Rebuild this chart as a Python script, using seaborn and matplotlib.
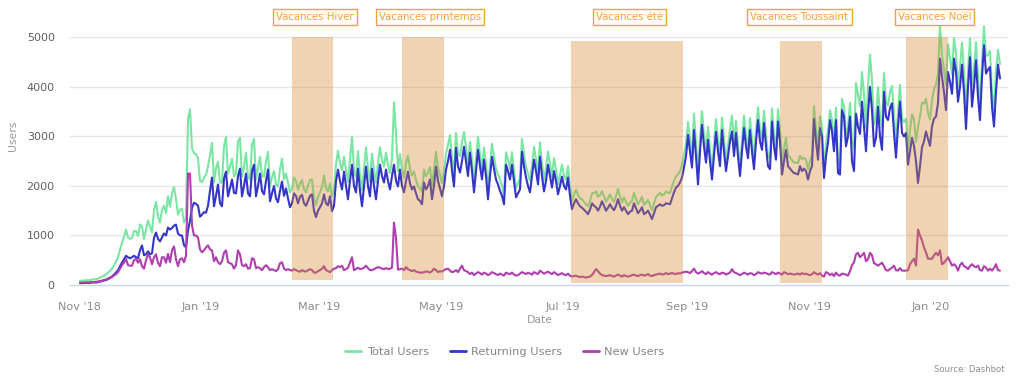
import matplotlib
matplotlib.use("Agg")
import matplotlib.pyplot as plt
import matplotlib.dates as mdates
import matplotlib.transforms as mtransforms
from matplotlib.lines import Line2D
import seaborn as sns
import pandas as pd

# ---------------- data ----------------
start_date = "2018-11-01 12:00"

total_users = [
    80, 90,
    90, 100, 90, 100, 110, 115, 115,
    130, 150, 170, 190, 210, 250, 290,
    330, 400, 470, 560, 710, 850, 970,
    1120, 960, 930, 950, 1090, 1090, 990,
    1220, 1180, 930, 1120, 1300, 1180, 1060,
    1510, 1680, 1380, 1260, 1520, 1600, 1450,
    1790, 1580, 1850, 1980, 1740, 1420, 1520,
    1540, 1260, 1350, 3350, 3550, 2760, 2660,
    2640, 2560, 2100, 2080, 2170, 2220, 2400,
    2620, 2870, 2070, 2360, 2490, 2070, 2070,
    2800, 2990, 2250, 2390, 2550, 2190, 2250,
    2900, 2970, 2190, 2380, 2670, 2180, 2130,
    2840, 2950, 2130, 2360, 2590, 2200, 2190,
    2500, 2690, 1990, 2170, 2300, 2030, 1990,
    2340, 2550, 2130, 2250, 2070, 1870, 1940,
    2170, 2100, 1930, 2050, 2120, 1930, 1870,
    2000, 2120, 2130, 1750, 1620, 1780, 1870,
    1980, 2210, 1950, 1890, 2050, 1790, 1930,
    2440, 2710, 2460, 2320, 2590, 2320, 2080,
    2550, 2990, 2300, 2190, 2700, 2220, 1920,
    2350, 2780, 2340, 2090, 2650, 2320, 2070,
    2460, 2780, 2530, 2390, 2670, 2420, 2260,
    2550, 3690, 3050, 2300, 2650, 2330, 2170,
    2460, 2610, 2350, 2210, 2290, 2120, 1990,
    1950, 1880, 2330, 2200, 2270, 2380, 2010,
    2330, 2690, 2360, 2230, 2060, 2300, 2650,
    2830, 3020, 2560, 2260, 3070, 2660, 2600,
    2890, 3090, 2780, 2460, 2890, 2550, 2070,
    2530, 2990, 2640, 2340, 2780, 2430, 1930,
    2420, 2850, 2590, 2350, 2230, 2130, 2010,
    1820, 2680, 2530, 2350, 2680, 2310, 1960,
    2050, 2160, 2950, 2640, 2390, 2250, 2100,
    2410, 2790, 2540, 2250, 2880, 2460, 2120,
    2350, 2700, 2440, 2190, 2560, 2330, 2030,
    2220, 2430, 2210, 2130, 2400, 1990, 1700,
    1830, 1920, 1820, 1750, 1730, 1680, 1630,
    1590, 1690, 1850, 1860, 1890, 1780, 1810,
    1890, 1790, 1680, 1750, 1830, 1740, 1680,
    1790, 1940, 1790, 1670, 1770, 1680, 1600,
    1660, 1700, 1860, 1740, 1630, 1700, 1780,
    1620, 1660, 1720, 1610, 1510, 1650, 1780,
    1820, 1860, 1810, 1830, 1890, 1860, 1860,
    1990, 2100, 2190, 2240, 2300, 2420, 2630,
    2870, 3290, 2940, 2650, 3460, 2860, 2260,
    2950, 3510, 3040, 2690, 3190, 2730, 2340,
    2840, 3350, 2930, 2620, 3380, 2940, 2510,
    2830, 3150, 3420, 2860, 3310, 2820, 2400,
    2920, 3420, 3030, 2770, 3370, 2930, 2540,
    3120, 3590, 3140, 2960, 3520, 3040, 2620,
    2550, 3560, 3040, 2750, 3550, 3130, 2440,
    2760, 2970, 2620, 2580, 2520, 2470, 2470,
    2460, 2610, 2540, 2570, 2530, 2340, 2500,
    2620, 3610, 3130, 2740, 3410, 3190, 2330,
    2860, 3110, 3530, 3330, 2880, 3580, 2460,
    2420, 3760, 3620, 3010, 3190, 3680, 2900,
    2760, 4080, 3850, 3610, 4300, 3850, 3180,
    3980, 4650, 4130, 3240, 3390, 3990, 3420,
    3180, 4280, 3700, 3620, 3890, 4020, 3460,
    2870, 3490, 4040, 3360, 3290, 3360, 2730,
    3120, 3450, 3340, 2890, 3180, 3400, 3680,
    3660, 3760, 3480, 3340, 3730, 3960, 4050,
    4270, 5270, 4620, 4350, 4030, 4860, 4580,
    4250, 4990, 4680, 3990, 4400, 4900, 4280,
    3510, 4320, 4980, 4020, 4380, 4900, 4190,
    3630, 4490, 5220, 4620, 4640, 4730, 3890,
    3540, 4320, 4750, 4460,
]

returning_users = [
    35, 40,
    40, 45, 40, 45, 50, 55, 50,
    60, 70, 80, 90, 100, 120, 140,
    170, 210, 250, 300, 380, 450, 520,
    590, 560, 540, 560, 590, 560, 540,
    700, 800, 600, 620, 680, 620, 640,
    950, 1060, 930, 880, 960, 1040, 1000,
    1160, 1120, 1150, 1200, 1220, 1040, 1000,
    1000, 800, 760, 1100, 1300, 1560, 1660,
    1640, 1600, 1380, 1420, 1470, 1460, 1600,
    1900, 2170, 1590, 1800, 2030, 1650, 1590,
    2150, 2290, 1790, 1950, 2130, 1860, 1850,
    2200, 2350, 1790, 2000, 2250, 1850, 1790,
    2300, 2430, 1790, 2000, 2250, 1900, 1830,
    2100, 2330, 1690, 1850, 2000, 1750, 1670,
    1900, 2090, 1800, 1950, 1750, 1570, 1650,
    1850, 1800, 1650, 1780, 1820, 1650, 1600,
    1700, 1800, 1830, 1500, 1370, 1500, 1570,
    1650, 1830, 1650, 1610, 1790, 1490, 1600,
    2100, 2330, 2100, 1930, 2290, 2000, 1730,
    2100, 2430, 2000, 1870, 2350, 1900, 1590,
    2000, 2390, 2000, 1790, 2350, 2000, 1730,
    2100, 2430, 2200, 2070, 2330, 2100, 1930,
    2200, 2430, 2100, 1990, 2330, 2000, 1870,
    2100, 2290, 2050, 1930, 1990, 1850, 1730,
    1700, 1630, 2070, 1930, 2000, 2130, 1730,
    2000, 2390, 2100, 1950, 1790, 2000, 2330,
    2500, 2730, 2300, 1990, 2770, 2400, 2270,
    2500, 2790, 2500, 2200, 2670, 2300, 1870,
    2300, 2730, 2400, 2130, 2530, 2200, 1730,
    2200, 2590, 2350, 2130, 2030, 1900, 1800,
    1630, 2430, 2300, 2130, 2430, 2100, 1770,
    1850, 1930, 2690, 2400, 2170, 2000, 1870,
    2200, 2530, 2300, 2030, 2590, 2200, 1890,
    2100, 2430, 2200, 1970, 2300, 2100, 1830,
    2000, 2190, 2000, 1930, 2170, 1800, 1530,
    1650, 1730, 1650, 1590, 1560, 1520, 1480,
    1430, 1520, 1650, 1600, 1570, 1500, 1580,
    1690, 1600, 1500, 1560, 1630, 1560, 1510,
    1600, 1730, 1600, 1500, 1570, 1500, 1430,
    1480, 1500, 1650, 1550, 1450, 1500, 1570,
    1430, 1460, 1500, 1420, 1330, 1450, 1570,
    1600, 1630, 1600, 1610, 1650, 1640, 1630,
    1750, 1870, 1970, 2000, 2070, 2170, 2370,
    2600, 3030, 2700, 2370, 3130, 2600, 2030,
    2700, 3230, 2800, 2470, 2930, 2500, 2130,
    2600, 3090, 2700, 2400, 3130, 2700, 2300,
    2600, 2900, 3100, 2600, 3070, 2600, 2200,
    2700, 3170, 2800, 2560, 3130, 2700, 2340,
    2900, 3330, 2900, 2730, 3270, 2800, 2400,
    2340, 3300, 2800, 2530, 3300, 2900, 2230,
    2500, 2730, 2400, 2350, 2300, 2260, 2250,
    2230, 2400, 2300, 2350, 2300, 2130, 2300,
    2400, 3350, 2900, 2530, 3170, 3000, 2160,
    2600, 2870, 3330, 3100, 2700, 3330, 2260,
    2230, 3530, 3400, 2800, 3000, 3400, 2500,
    2300, 3460, 3200, 3050, 3700, 3200, 2700,
    3460, 4000, 3530, 2800, 2970, 3600, 3000,
    2730, 3900, 3400, 3330, 3570, 3670, 3070,
    2570, 3200, 3700, 3070, 3000, 3070, 2430,
    2700, 2970, 2810, 2500, 2060, 2400, 2780,
    2900, 3100, 2950, 2810, 3200, 3360, 3400,
    3670, 4570, 4200, 3900, 3530, 4300, 4100,
    3860, 4570, 4300, 3700, 4000, 4450, 3900,
    3150, 4000, 4600, 3600, 4000, 4540, 3800,
    3330, 4200, 4840, 4270, 4350, 4400, 3600,
    3200, 3900, 4450, 4170,
]

new_users = [
    45, 50,
    50, 55, 50, 55, 60, 60, 65,
    70, 80, 90, 100, 110, 130, 150,
    160, 190, 220, 260, 330, 400, 450,
    530, 400, 390, 390, 500, 530, 450,
    520, 380, 330, 500, 620, 560, 420,
    560, 620, 450, 380, 560, 560, 450,
    630, 460, 700, 780, 520, 380, 520,
    540, 460, 590, 2250, 2250, 1200, 1000,
    1000, 960, 720, 660, 700, 760, 800,
    720, 700, 480, 560, 460, 420, 480,
    650, 700, 460, 440, 420, 330, 400,
    700, 620, 400, 380, 420, 330, 340,
    540, 520, 340, 360, 340, 300, 360,
    400, 360, 300, 320, 300, 280, 320,
    440, 460, 330, 300, 320, 300, 290,
    320, 300, 280, 270, 300, 280, 270,
    300, 320, 300, 250, 250, 280, 300,
    330, 380, 300, 280, 260, 300, 330,
    340, 380, 360, 390, 300, 320, 350,
    450, 560, 300, 320, 350, 320, 330,
    350, 390, 340, 300, 300, 320, 340,
    360, 350, 330, 320, 340, 320, 330,
    350, 1260, 950, 310, 320, 330, 300,
    360, 320, 300, 280, 300, 270, 260,
    250, 250, 260, 270, 270, 250, 280,
    330, 300, 260, 280, 270, 300, 320,
    330, 290, 260, 270, 300, 260, 330,
    390, 300, 280, 260, 220, 250, 200,
    230, 260, 240, 210, 250, 230, 200,
    220, 260, 240, 220, 200, 230, 210,
    190, 250, 230, 220, 250, 210, 190,
    200, 230, 260, 240, 220, 250, 230,
    210, 260, 240, 220, 290, 260, 230,
    250, 270, 240, 220, 260, 230, 200,
    220, 240, 210, 200, 230, 190, 170,
    180, 190, 170, 160, 170, 160, 150,
    160, 170, 200, 260, 320, 280, 230,
    200, 190, 180, 190, 200, 180, 170,
    190, 210, 190, 170, 200, 180, 170,
    180, 200, 210, 190, 180, 200, 210,
    190, 200, 220, 190, 180, 200, 210,
    220, 230, 210, 220, 240, 220, 230,
    240, 230, 220, 240, 230, 250, 260,
    270, 260, 240, 280, 330, 260, 230,
    250, 280, 240, 220, 260, 230, 210,
    240, 260, 230, 220, 250, 240, 210,
    230, 250, 320, 260, 240, 220, 200,
    220, 250, 230, 210, 240, 230, 200,
    220, 260, 240, 230, 250, 240, 220,
    210, 260, 240, 220, 250, 230, 210,
    260, 240, 220, 230, 220, 210, 220,
    230, 210, 240, 220, 230, 210, 200,
    220, 260, 230, 210, 240, 190, 170,
    260, 240, 200, 230, 180, 250, 200,
    190, 230, 220, 210, 190, 280, 400,
    460, 620, 650, 560, 600, 650, 480,
    520, 650, 600, 440, 420, 390, 420,
    450, 380, 300, 290, 320, 350, 390,
    300, 290, 340, 290, 290, 290, 300,
    420, 480, 530, 390, 1120, 1000, 900,
    760, 660, 530, 530, 530, 600, 650,
    600, 700, 420, 450, 500, 560, 480,
    390, 420, 380, 290, 400, 450, 380,
    360, 320, 380, 420, 380, 360, 390,
    300, 290, 380, 350, 290, 330, 290,
    340, 420, 300, 290,
]

series_names = ["Total Users", "Returning Users", "New Users"]

vacation_names = ["Vacances Hiver", "Vacances printemps", "Vacances été",
                  "Vacances Toussaint", "Vacances Noël"]
vacation_starts = ["2019-02-15 08:00", "2019-04-11 16:00", "2019-07-05 00:00",
                   "2019-10-17 12:00", "2019-12-19 08:00"]
vacation_ends = ["2019-03-08 04:00", "2019-05-02 12:00", "2019-08-30 04:00",
                 "2019-11-07 16:00", "2020-01-09 08:00"]

y_ticks = [0, 1000, 2000, 3000, 4000, 5000]
x_tick_dates = ["2018-11-01", "2019-01-01", "2019-03-01", "2019-05-01",
                "2019-07-01", "2019-09-01", "2019-11-01", "2020-01-01"]

# ---------------- styles / layout ----------------
series_colors = ["#7be6a3", "#3535c8", "#ad3fae"]
band_color = "#d4872a"
band_alpha = 0.36
band_y = [(100, 5000), (100, 5000), (50, 4930), (50, 4930), (100, 5000)]
label_x = ["2019-02-27 00:00", "2019-04-25 12:00", "2019-08-03 06:00",
           "2019-10-27 06:00", "2020-01-02 18:00"]
label_color = "#f0a33c"
W, H = 1026, 390
y_top = 5500
ax_left, ax_right, ax_bottom, ax_top = 70, 1008, 285, 12.6

# ---------------- build frame ----------------
assert len(total_users) == len(returning_users) == len(new_users)
dates = pd.date_range(start_date, periods=len(total_users), freq="D")
wide = pd.DataFrame({"Date": dates,
                     series_names[0]: total_users,
                     series_names[1]: returning_users,
                     series_names[2]: new_users})
df = wide.melt(id_vars="Date", var_name="Series", value_name="Users")

sns.set_theme(style="white")
plt.rcParams["font.family"] = ["DejaVu Sans"]

fig = plt.figure(figsize=(W / 100, H / 100), dpi=100)
ax = fig.add_axes([ax_left / W, 1 - ax_bottom / H, (ax_right - ax_left) / W,
                   (ax_bottom - ax_top) / H])

sns.lineplot(data=df, x="Date", y="Users", hue="Series", hue_order=series_names,
             palette=series_colors, linewidth=1.5, ax=ax, legend=False,
             zorder=3)

# vacation bands (drawn above the lines, semi-transparent)
for (lo, hi), s, e in zip(band_y, vacation_starts, vacation_ends):
    ax.axvspan(pd.Timestamp(s), pd.Timestamp(e), ymin=lo / y_top, ymax=hi / y_top,
               color=band_color, alpha=band_alpha, lw=0, zorder=6)

# axes formatting
ax.set_ylim(0, y_top)
ax.set_xlim(pd.Timestamp("2018-10-27 12:00"), pd.Timestamp("2020-02-08 12:00"))
ax.set_yticks(y_ticks)
ax.set_yticklabels([str(v) for v in y_ticks])
ax.set_xticks([pd.Timestamp(d) for d in x_tick_dates])
ax.xaxis.set_major_formatter(mdates.DateFormatter("%b '%y"))
for yv in y_ticks[1:]:
    ax.axhline(yv, color="#e6e6e6", lw=1.0, zorder=1)
for side in ["top", "right", "left"]:
    ax.spines[side].set_visible(False)
ax.spines["bottom"].set_color("#ccd6eb")
ax.spines["bottom"].set_linewidth(1.0)
ax.spines["bottom"].set_zorder(2)
ax.tick_params(axis="x", length=8, width=1, color="#ccd6eb", pad=4,
               labelsize=8.1, labelcolor="#8c8c8c", direction="out")
ax.tick_params(axis="y", length=0, pad=11, labelsize=8.0, labelcolor="#606060")
ax.set_xlabel("Date", fontsize=7.8, color="#9a9a9a")
ax.set_ylabel("Users", fontsize=7.8, color="#9a9a9a")
ax.xaxis.set_label_coords((540 - ax_left) / (ax_right - ax_left),
                          (ax_bottom - 320) / (ax_bottom - ax_top))
ax.yaxis.set_label_coords((13 - ax_left) / (ax_right - ax_left),
                          (ax_bottom - 136) / (ax_bottom - ax_top))
ax.xaxis.label.set_va("center")
ax.yaxis.label.set_va("center")
ax.grid(False)

# vacation labels
trans = mtransforms.blended_transform_factory(ax.transData, fig.transFigure)
for name, lx in zip(vacation_names, label_x):
    ax.text(pd.Timestamp(lx), 1 - 17 / H, name, transform=trans, ha="center",
            va="center", fontsize=7.3, color=label_color, zorder=10,
            bbox=dict(boxstyle="square,pad=0.32", fc="white", ec=label_color, lw=1.0))

# legend
handles = [Line2D([0], [0], color=c, lw=2.0) for c in series_colors]
fig.legend(handles, series_names, loc="center", bbox_to_anchor=(505 / W, 1 - 352 / H),
           ncol=3, frameon=False, fontsize=8.2, handlelength=1.4, handletextpad=0.5,
           columnspacing=1.8, labelcolor="#858585")

fig.text(1005 / W, 1 - 370 / H, "Source: Dashbot", ha="right", va="center",
         fontsize=6.1, color="#8c8c8c")

fig.savefig("out.png", dpi=100)
